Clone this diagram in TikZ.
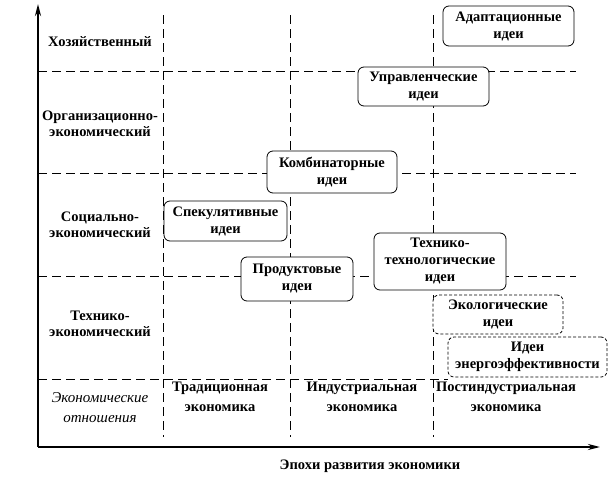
\documentclass[tikz,border=0pt]{standalone}
\usepackage{fontspec}
\setmainfont{Liberation Serif}
\usetikzlibrary{arrows.meta}
\begin{document}
\begin{tikzpicture}[x=1pt,y=-1pt,
  grid/.style={dash pattern=on 9pt off 5pt, line width=0.8pt},
  idea/.style={draw, rounded corners=6pt, fill=white, align=center, inner sep=0pt, line width=0.8pt, font=\bfseries\fontsize{14.5}{17}\selectfont},
  ideadash/.style={idea, dash pattern=on 3pt off 2pt},
  rowlab/.style={align=center, font=\bfseries\fontsize{14.5}{16.5}\selectfont},
  rowital/.style={align=center, font=\itshape\fontsize{15}{20}\selectfont},
  epoch/.style={align=center, font=\bfseries\fontsize{14.5}{20}\selectfont},
  axisline/.style={line width=2.6pt, -{Stealth[length=12pt,width=6pt]}}]
\useasboundingbox (0,0) rectangle (610,485);
% grid
\foreach \x in {163,290,433} \draw[grid] (\x,15) -- (\x,437);
\foreach \y in {71,173,276} \draw[grid] (38,\y) -- (576,\y);
\draw[grid] (38,379) -- (448,379);
% axes
\coordinate (O) at (38,447);
\coordinate (Ytop) at (38,4);
\coordinate (Xend) at (600,447);
\draw[axisline] (O) -- (Ytop);
\draw[axisline] (O) -- (Xend);
% row labels
\node[rowlab] (r1) at (100,42) {Хозяйственный};
\node[rowlab] (r2) at (100,124) {Организационно-\\экономический};
\node[rowlab] (r3) at (100,225) {Социально-\\экономический};
\node[rowlab] (r4) at (100,324) {Технико-\\экономический};
\node[rowital] (r5) at (100,408) {Экономические\\отношения};
% epoch labels
\node[epoch] (e1) at (220,397) {Традиционная\\экономика};
\node[epoch] (e2) at (362,397) {Индустриальная\\экономика};
\node[epoch] (e3) at (506,397) {Постиндустриальная\\экономика};
\node[font=\bfseries\fontsize{14.5}{16}\selectfont] (xt) at (370,466) {Эпохи развития экономики};
% ideas
\node[idea, minimum width=131pt, minimum height=40pt] (i1) at (508.5,26) {Адаптационные\\идеи};
\node[idea, minimum width=131pt, minimum height=39pt] (i2) at (423.5,86.5) {Управленческие\\идеи};
\node[idea, minimum width=130pt, minimum height=42pt] (i3) at (332,172) {Комбинаторные\\идеи};
\node[idea, minimum width=123pt, minimum height=40pt] (i4) at (225.5,221) {Спекулятивные\\идеи};
\node[idea, minimum width=112pt, minimum height=44pt] (i5) at (297,279) {Продуктовые\\идеи};
\node[idea, minimum width=132pt, minimum height=57pt] (i6) at (440,261.5) {Технико-\\технологические\\идеи};
\node[ideadash, minimum width=130pt, minimum height=39pt] (i7) at (498,314.5) {Экологические\\идеи};
\node[ideadash, minimum width=159pt, minimum height=40pt] (i8) at (527.5,357) {Идеи\\энергоэффективности};
\end{tikzpicture}
\end{document}
